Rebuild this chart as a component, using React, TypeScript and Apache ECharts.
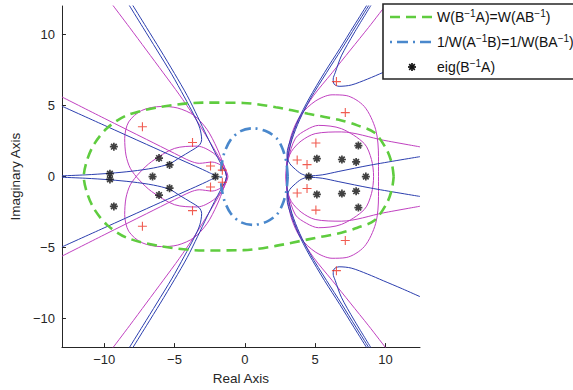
import React, { useEffect, useRef } from 'react';
import * as echarts from 'echarts';

// ---------- tick labels ----------
const X_TICKS = [-10, -5, 0, 5, 10];
const Y_TICKS = [-10, -5, 0, 5, 10];

// ---------- markers ----------
const diagRatios: number[][] = [
  [-7.28, 3.5], [-7.28, -3.5], [-3.72, 2.4], [-3.72, -2.4], [-2.44, 0.74], [-2.44, -0.74],
  [-1.6, 0.45], [-1.6, -0.4], [3.72, 1.16], [3.72, -1.16], [4.42, 0.84], [4.42, -0.84],
  [5.05, 2.36], [5.05, -2.36], [7.14, 4.5], [7.14, -4.5], [6.51, 6.68], [6.51, -6.62],
];
const eigenvalues: number[][] = [
  [-9.31, 2.1], [-9.31, -2.1], [-6.1, 1.3], [-6.1, -1.3], [-5.35, 0.82], [-5.35, -0.82],
  [-9.59, 0.2], [-9.59, -0.2], [-6.56, 0], [-2.09, 0],
  [8.07, 2.18], [8.07, -2.18], [5.12, 1.26], [5.12, -1.26], [6.9, 1.2], [6.9, -1.2],
  [7.91, 1.03], [7.91, -1.03], [4.54, 0], [8.6, 0],
];

// ---------- curves (upper halves; the picture is symmetric about the real axis) ----------
const greenUpper = [
  [10.58, 0], [10.45, 0.9], [10.1, 1.86], [9.2, 3.1], [8.0, 3.6], [6.86, 3.95], [4.5, 4.42],
  [2.2, 4.88], [-0.1, 5.18], [-3.0, 5.2], [-6.0, 4.9], [-8.4, 4.3], [-9.8, 3.4], [-10.7, 2.3],
  [-11.2, 1.2], [-11.45, 0],
];
const dashDotUpper = [
  [3.05, 0], [2.95, 1.0], [2.7, 1.9], [2.3, 2.65], [1.6, 3.15], [0.6, 3.4], [-0.3, 3.2],
  [-1.0, 2.6], [-1.45, 1.7], [-1.65, 0.8], [-1.7, 0],
];
// left side
const blueHypLeft = [
  [-8.0, 12.1], [-7.0, 10.5], [-6.0, 8.9], [-5.0, 7.25], [-4.1, 5.7], [-3.35, 4.2], [-2.7, 2.85],
  [-2.15, 1.75], [-1.7, 0.9], [-1.4, 0.35], [-1.3, 0],
];
const blueHookLeft = [
  [-8.25, 12.1], [-7.25, 10.5], [-6.25, 8.9], [-5.2, 7.2], [-4.3, 5.6], [-3.6, 4.3], [-3.2, 3.4],
  [-3.07, 2.6], [-3.24, 2.2], [-3.84, 1.8], [-4.6, 1.35], [-5.35, 0.9], [-6.5, 0.6], [-8.0, 0.38],
  [-9.6, 0.23], [-11.3, 0.12], [-13.0, 0.05],
];
const blueVeeLeft = [
  [-13, 4.95], [-10, 3.61], [-7, 2.27], [-5, 1.38], [-3.5, 0.72], [-2.5, 0.26], [-2.05, 0],
];
const magVeeLeft = [
  [-13, 5.6], [-10, 4.1], [-7, 2.62], [-5, 1.63], [-3.9, 1.1], [-3.24, 0.93], [-2.33, 1.02],
  [-1.7, 0.8], [-1.4, 0.45], [-1.28, 0],
];
const magHypLeft = [
  [-9.42, 12.1], [-8.2, 10.5], [-7.0, 8.9], [-5.8, 7.3], [-4.65, 5.75], [-3.65, 4.3], [-2.8, 2.95],
  [-2.1, 1.8], [-1.6, 0.95], [-1.3, 0.35], [-1.2, 0],
];
const magLeafLeft = [
  [-1.3, 0], [-1.51, 0.81], [-1.98, 2.0], [-2.68, 3.3], [-3.61, 4.3], [-4.77, 4.82], [-5.93, 4.93],
  [-7.33, 4.65], [-8.26, 3.84], [-8.54, 2.67], [-8.45, 1.51], [-8.14, 0.58], [-7.5, -0.25],
  [-6.63, -1.05], [-5.0, -1.98], [-3.38, -2.14], [-2.21, -1.63], [-1.51, -0.81], [-1.3, 0],
];
// right side
const blueHypRight = [
  [8.85, 12.1], [7.9, 10.6], [6.9, 9.0], [5.8, 7.3], [4.65, 5.46], [3.9, 4.0], [3.35, 2.6],
  [3.05, 1.3], [2.97, 0],
];
const blueHookRightLow = [
  [8.7, 12.1], [7.75, 10.6], [6.75, 9.0], [5.65, 7.3], [4.55, 5.46], [3.8, 4.0], [3.25, 2.6],
  [3.0, 1.6], [3.02, 1.28], [3.2, 0.9], [3.49, 0.6], [4.0, 0.2], [4.54, 0.05], [5.5, 0.12],
  [6.63, 0.35], [8.95, 0.81], [12.45, 1.4],
];
const blueHookRightHigh = [
  [9.0, 12.1], [7.77, 10.1], [6.86, 8.49], [6.42, 7.3], [6.28, 6.86], [6.35, 6.5], [6.7, 6.35],
  [7.56, 6.44], [8.72, 6.86], [9.84, 7.33], [11.2, 7.9], [12.45, 8.45],
];
const magHypRight = [
  [10.05, 12.1], [8.8, 10.5], [7.5, 8.9], [6.2, 7.3], [4.88, 5.69], [4.0, 4.3], [3.4, 2.9],
  [3.08, 1.5], [2.95, 0.5], [2.93, 0],
];
const magMouthRight = [
  [12.45, 2.09], [9.88, 2.55], [6.86, 3.14], [5.0, 3.02], [4.0, 2.5], [3.3, 1.75], [3.0, 0.9], [2.92, 0],
];
const magInnerRight = [
  [2.95, 0], [3.05, 1.1], [3.6, 2.7], [4.4, 3.3], [5.23, 3.6], [6.86, 3.37], [8.49, 2.32],
  [9.0, 1.2], [9.15, 0],
];
const magOuterRight = [
  [2.95, 0], [3.0, 1.3], [3.3, 2.9], [3.95, 4.3], [5.0, 5.3], [6.2, 5.75], [7.2, 5.7],
  [8.49, 4.93], [9.3, 3.3], [9.5, 1.4], [9.5, 0],
];

// ---------- helpers ----------
const conj = (pts: number[][]) => pts.map(([x, y]) => [x, -y]);
// curve whose upper half ends (or starts) on the real axis -> full symmetric curve
const withConj = (upper: number[][]) => [...upper, ...conj(upper).reverse().slice(1)];

const FONT = '"Liberation Sans", Arial, Helvetica, sans-serif';
const MAG = '#c040c0';
const BLUE = '#2b3eae';
const GREEN = '#5fcc3f';
const DASHBLUE = '#4a88cc';
const INK = '#262626';

function curve(data: number[][], color: string, width = 1, type: any = 'solid', z = 2) {
  return {
    type: 'line',
    data,
    showSymbol: false,
    symbol: 'none',
    smooth: 0.3,
    silent: true,
    z,
    lineStyle: { color, width, type },
  };
}

const fmt = (v: number) => String(v).replace('-', '\u2212');

export default function App() {
  const ref = useRef<HTMLDivElement>(null);
  useEffect(() => {
    if (!ref.current) return;
    const chart = echarts.init(ref.current, undefined, { renderer: 'svg' });
    const series: any[] = [
      curve(withConj(magHypLeft), MAG),
      curve(withConj(magVeeLeft), MAG),
      curve(magLeafLeft, MAG),
      curve(conj(magLeafLeft), MAG),
      curve(withConj(magHypRight), MAG),
      curve(magMouthRight, MAG),
      curve(conj(magMouthRight), MAG),
      curve(withConj(magInnerRight), MAG),
      curve(withConj(magOuterRight), MAG),
      curve(withConj(blueHypLeft), BLUE),
      curve(blueHookLeft, BLUE),
      curve(conj(blueHookLeft), BLUE),
      curve(withConj(blueVeeLeft), BLUE),
      curve(withConj(blueHypRight), BLUE),
      curve(blueHookRightLow, BLUE),
      curve(conj(blueHookRightLow), BLUE),
      curve(blueHookRightHigh, BLUE),
      curve(conj(blueHookRightHigh), BLUE),
      curve(withConj(greenUpper), GREEN, 2.6, [10, 6], 3),
      curve(withConj(dashDotUpper), DASHBLUE, 2.6, [11, 5, 2, 5], 3),
      {
        type: 'scatter',
        data: diagRatios,
        symbol: 'path://M0,5L10,5M5,0L5,10',
        symbolSize: 9,
        silent: true,
        z: 4,
        itemStyle: { color: 'none', borderColor: '#ec3326', borderWidth: 1.1 },
      },
      {
        type: 'scatter',
        data: eigenvalues,
        symbol: 'path://M5,0L5,10M0,5L10,5M1.5,1.5L8.5,8.5M1.5,8.5L8.5,1.5',
        symbolSize: 8,
        silent: true,
        z: 5,
        itemStyle: { color: 'none', borderColor: '#111', borderWidth: 1.7 },
      },
    ];

    const sup = { fontSize: 10, fontFamily: FONT, color: '#111', verticalAlign: 'top', lineHeight: 11 };
    const nor = { fontSize: 14, fontFamily: FONT, color: '#111', lineHeight: 17 };
    const legendText = (y: number, t: string) => ({
      type: 'text',
      left: 437,
      top: y - 9,
      z: 101,
      style: { text: t, rich: { n: nor, s: sup }, fontFamily: FONT, fontSize: 14, fill: '#111' },
    });

    chart.setOption({
      animation: false,
      backgroundColor: '#fff',
      grid: { left: 55, top: 6, width: 365, height: 344 },
      xAxis: {
        type: 'value',
        min: -13,
        max: 12.45,
        name: 'Real Axis',
        nameLocation: 'middle',
        nameGap: 22,
        nameTextStyle: { color: INK, fontSize: 13.5, fontFamily: FONT },
        axisLine: { show: true, onZero: false, lineStyle: { color: INK, width: 1 } },
        axisTick: { show: true, inside: true, length: 4, customValues: X_TICKS, lineStyle: { color: INK } },
        axisLabel: { customValues: X_TICKS, color: INK, fontSize: 13, fontFamily: FONT, margin: 6, formatter: fmt },
        splitLine: { show: false },
      },
      yAxis: {
        type: 'value',
        min: -12,
        max: 12,
        name: 'Imaginary Axis',
        nameLocation: 'middle',
        nameGap: 36,
        nameRotate: 90,
        nameTextStyle: { color: INK, fontSize: 13.5, fontFamily: FONT },
        axisLine: { show: true, onZero: false, lineStyle: { color: INK, width: 1 } },
        axisTick: { show: true, inside: true, length: 4, customValues: Y_TICKS, lineStyle: { color: INK } },
        axisLabel: { customValues: Y_TICKS, color: INK, fontSize: 13, fontFamily: FONT, margin: 7, formatter: fmt },
        splitLine: { show: false },
      },
      series,
      graphic: [
        {
          type: 'rect',
          z: 100,
          shape: { x: 383, y: 4, width: 260, height: 75 },
          style: { fill: '#fff', stroke: INK, lineWidth: 1.6 },
        },
        {
          type: 'line', z: 101,
          shape: { x1: 390, y1: 17, x2: 433, y2: 17 },
          style: { stroke: GREEN, lineWidth: 2.6, lineDash: [10, 6] },
        },
        {
          type: 'line', z: 101,
          shape: { x1: 390, y1: 42, x2: 433, y2: 42 },
          style: { stroke: DASHBLUE, lineWidth: 2.6, lineDash: [2, 5, 11, 5] },
        },
        {
          type: 'group', z: 101, x: 412, y: 67,
          children: [
            { type: 'line', z: 101, shape: { x1: -4, y1: 0, x2: 4, y2: 0 }, style: { stroke: '#111', lineWidth: 1.7 } },
            { type: 'line', z: 101, shape: { x1: 0, y1: -4, x2: 0, y2: 4 }, style: { stroke: '#111', lineWidth: 1.7 } },
            { type: 'line', z: 101, shape: { x1: -2.8, y1: -2.8, x2: 2.8, y2: 2.8 }, style: { stroke: '#111', lineWidth: 1.7 } },
            { type: 'line', z: 101, shape: { x1: -2.8, y1: 2.8, x2: 2.8, y2: -2.8 }, style: { stroke: '#111', lineWidth: 1.7 } },
          ],
        },
        legendText(17, '{n|W(B}{s|\u22121}{n|A)=W(AB}{s|\u22121}{n|)}'),
        legendText(42, '{n|1/W(A}{s|\u22121}{n|B)=1/W(BA}{s|\u22121}{n|)}'),
        legendText(67, '{n|eig(B}{s|\u22121}{n|A)}'),
      ],
    });
    return () => chart.dispose();
  }, []);
  return <div ref={ref} style={{ position: 'absolute', left: 0, top: 0, width: 573, height: 390 }} />;
}
